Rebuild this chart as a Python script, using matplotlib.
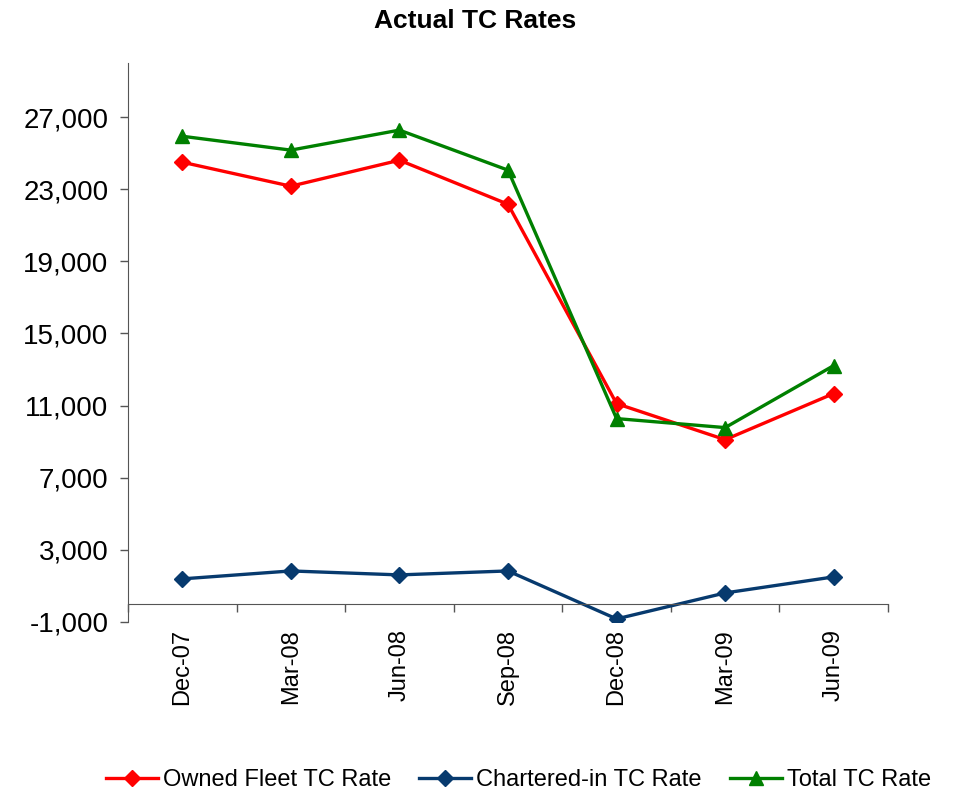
import matplotlib.pyplot as plt
import numpy as np
from matplotlib.ticker import FuncFormatter

plt.rcParams['font.family'] = ['Liberation Sans', 'DejaVu Sans']

quarters = ["Dec-07", "Mar-08", "Jun-08", "Sep-08", "Dec-08", "Mar-09", "Jun-09"]
owned = [24500, 23170, 24610, 22170, 11110, 9110, 11670]
chartered = [1390, 1830, 1610, 1830, -830, 610, 1500]
total = [25940, 25170, 26280, 24060, 10280, 9780, 13220]
yticks = [-1000, 3000, 7000, 11000, 15000, 19000, 23000, 27000]

fig = plt.figure(figsize=(9.6, 7.9), dpi=100)
ax = fig.add_axes([0.1333, 0.2127, 0.7917, 0.7075])

x = np.arange(len(quarters))
ax.plot(x, owned, color="#FF0000", lw=2.4, marker="D", ms=8, label="Owned Fleet TC Rate")
ax.plot(x, chartered, color="#073A6E", lw=2.4, marker="D", ms=8, label="Chartered-in TC Rate")
ax.plot(x, total, color="#008000", lw=2.4, marker="^", ms=10, label="Total TC Rate")

ax.set_xlim(-0.5, len(quarters) - 0.5)
ax.set_ylim(-1000, 30000)
ax.set_yticks(yticks)
ax.yaxis.set_major_formatter(FuncFormatter(lambda v, p: f"{int(v):,}"))
ax.tick_params(axis="y", direction="out", length=6, width=1, color="#555555", labelsize=20, pad=8)

ax.spines["top"].set_visible(False)
ax.spines["right"].set_visible(False)
ax.spines["left"].set_color("#555555")
ax.spines["bottom"].set_color("#555555")
ax.spines["bottom"].set_position(("data", 0))

ax.set_xticks(x)
ax.set_xticklabels(quarters, rotation=90, fontsize=17)
ax.set_xticks(np.arange(len(quarters) + 1) - 0.5, minor=True)
ax.tick_params(axis="x", which="major", length=0, pad=18)
ax.tick_params(axis="x", which="minor", direction="out", length=6, width=1, color="#555555")

fig.suptitle("Actual TC Rates", x=0.495, y=0.988, fontsize=19, fontweight="bold")
fig.legend(loc="lower center", bbox_to_anchor=(0.54, -0.028), ncol=3, frameon=False,
           fontsize=17, handlelength=2.2, handletextpad=0.2, columnspacing=1.2)

fig.savefig("out.png", dpi=100)
